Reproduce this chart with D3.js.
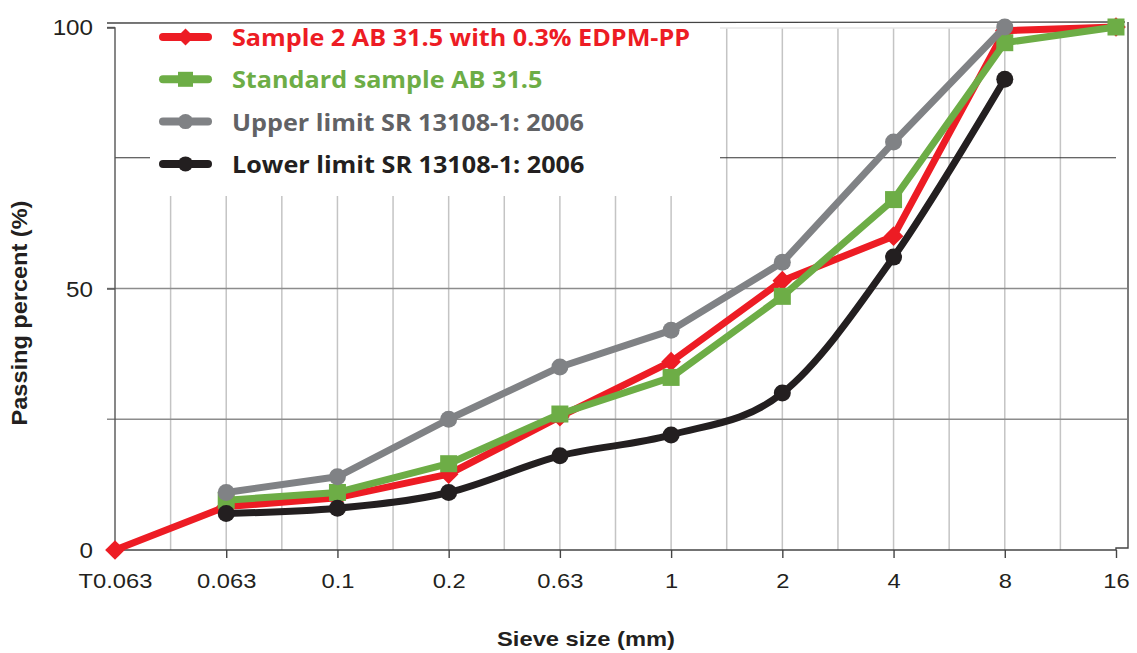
<!DOCTYPE html>
<html><head><meta charset="utf-8">
<script src="https://cdn.jsdelivr.net/npm/d3@7"></script>
<style>
html,body{margin:0;padding:0;background:#fff;}
svg{display:block;}
</style></head>
<body>
<svg id="chart" width="1137" height="653"></svg>
<script>
const categories = ["T0.063","0.063","0.1","0.2","0.63","1","2","4","8","16"];
const sample2  = [0, 8.3, 10, 14.5, 25.5, 36, 51.5, 60, 99.3, 100];
const standard = [null, 9.5, 11, 16.5, 26, 33, 48.5, 67, 97, 100];
const upper    = [null, 11, 14, 25, 35, 42, 55, 78, 100, null];
const lower    = [null, 7, 8, 11, 18, 22, 30, 56, 90, null];
const yTicks = [0, 50, 100];
const yGrid = [25, 50, 75];
const seriesNames = ["Sample 2 AB 31.5 with 0.3% EDPM-PP","Standard sample AB 31.5","Upper limit SR 13108-1: 2006","Lower limit SR 13108-1: 2006"];

const series = [
  {name: seriesNames[0], values: sample2, color: "#ED1C24", text: "#ED1C24", marker: "diamond", smooth: false},
  {name: seriesNames[1], values: standard, color: "#6DAD46", text: "#6DAD46", marker: "square", smooth: false},
  {name: seriesNames[2], values: upper, color: "#808285", text: "#616265", marker: "circle", smooth: false},
  {name: seriesNames[3], values: lower, color: "#231F20", text: "#231F20", marker: "circle", smooth: true}
];

const svg = d3.select("#chart");
const L = 115, R = 1116, T = 27, B = 550;
const x = d3.scalePoint().domain(categories).range([L, R]);
const y = d3.scaleLinear().domain([0, 100]).range([B, T]);
const step = x.step();
const sx = 1.13;

// vertical gridlines at half steps
const halfPos = d3.range(1, (categories.length - 1) * 2).map(i => L + i * step / 2);
const legBox = {x0: 150, x1: 720, y0: 24, y1: 196};
svg.append("g").selectAll("line").data(halfPos).join("line")
  .attr("x1", d => d).attr("x2", d => d)
  .attr("y1", d => (d > legBox.x0 && d < legBox.x1) ? legBox.y1 : T + 1)
  .attr("y2", B)
  .attr("stroke", "#c4c4c4").attr("stroke-width", 1.5);

// top light line (100)
svg.append("line").attr("x1", legBox.x1).attr("x2", R + 6).attr("y1", y(100)+1).attr("y2", y(100)+1)
  .attr("stroke", "#e6e6e6").attr("stroke-width", 1.5);

// horizontal gridlines
yGrid.forEach(v => {
  const g = svg.append("g");
  if (v === 75) {
    g.append("line").attr("x1", L).attr("x2", legBox.x0).attr("y1", y(v)).attr("y2", y(v)).attr("stroke", "#333").attr("stroke-width", 1.2);
    g.append("line").attr("x1", legBox.x1).attr("x2", R).attr("y1", y(v)).attr("y2", y(v)).attr("stroke", "#333").attr("stroke-width", 1.2);
  } else {
    g.append("line").attr("x1", L - 8).attr("x2", R + 11).attr("y1", y(v)).attr("y2", y(v)).attr("stroke", "#8c8c8c").attr("stroke-width", 1.6);
  }
});

// frame: top border, right border
svg.append("line").attr("x1", L - 8).attr("x2", R + 9).attr("y1", 23).attr("y2", 22).attr("stroke", "#444").attr("stroke-width", 1.4);
svg.append("path").attr("d", `M${R},${B} V${B-2} H${R+12} V22`).attr("fill", "none").attr("stroke", "#444").attr("stroke-width", 1.4);

// y axis
const yAxis = d3.axisLeft(y).tickValues(yTicks).tickSize(8).tickPadding(14).tickFormat(d3.format("d"));
const yg = svg.append("g").attr("transform", `translate(${L},0)`).call(yAxis);
yg.select(".domain").attr("stroke", "#555").attr("stroke-width", 1.4).attr("d", `M-8,${T+1}H0V${B}`);
yg.selectAll(".tick line").attr("stroke", "#555").attr("stroke-width", 1.4);
yg.selectAll(".tick text").attr("font-family", "Liberation Sans, Arial, sans-serif").attr("font-size", 22).attr("fill", "#231F20")
  .attr("x", 0).attr("dy", "0.36em").attr("text-anchor", "end").attr("transform", "translate(-22,0) scale(1.1,1)");

// x axis
const xAxis = d3.axisBottom(x).tickSize(8).tickPadding(14);
const xg = svg.append("g").attr("transform", `translate(0,${B})`).call(xAxis);
xg.select(".domain").attr("stroke", "#444").attr("stroke-width", 1.4).attr("d", `M${L},0H${R}`);
xg.selectAll(".tick line").attr("stroke", "#444").attr("stroke-width", 1.4);
xg.selectAll(".tick text").attr("font-family", "Liberation Sans, Arial, sans-serif").attr("font-size", 21).attr("fill", "#231F20")
  .attr("y", 0).attr("dy", 0).attr("transform", `translate(0,38) scale(${sx},1)`);
xg.selectAll(".tick").filter(d => d === "T0.063").select("line").remove();

// axis titles
svg.append("text").attr("transform", `translate(586,646) scale(${sx},1)`).attr("text-anchor", "middle")
  .attr("font-family", "Liberation Sans, Arial, sans-serif").attr("font-weight", "bold").attr("font-size", 21)
  .attr("fill", "#231F20").text("Sieve size (mm)");
svg.append("text").attr("transform", `translate(27,313) rotate(-90) scale(1.07,1)`).attr("text-anchor", "middle")
  .attr("font-family", "Liberation Sans, Arial, sans-serif").attr("font-weight", "bold").attr("font-size", 22)
  .attr("fill", "#231F20").text("Passing percent (%)");

// markers
function drawMarker(g, type, cx, cy, color, s) {
  if (type === "diamond") {
    g.append("path").attr("d", d3.symbol(d3.symbolDiamond2 || d3.symbolDiamond, s*s*1.1)()).attr("transform", `translate(${cx},${cy})`).attr("fill", color);
  } else if (type === "square") {
    g.append("rect").attr("x", cx - s/2).attr("y", cy - s/2).attr("width", s).attr("height", s).attr("fill", color);
  } else {
    g.append("circle").attr("cx", cx).attr("cy", cy).attr("r", s/2).attr("fill", color);
  }
}
const mSize = {diamond: 15, square: 17, circle: 17};

// lines
series.forEach(s => {
  const pts = categories.map((c, i) => ({c, v: s.values[i]})).filter(p => p.v !== null);
  const line = d3.line().x(p => x(p.c)).y(p => y(p.v)).curve(s.smooth ? d3.curveCardinal : d3.curveLinear);
  const g = svg.append("g");
  g.append("path").datum(pts).attr("d", line).attr("fill", "none").attr("stroke", s.color)
    .attr("stroke-width", 7).attr("stroke-linejoin", "round").attr("stroke-linecap", "butt");
  pts.forEach(p => drawMarker(g, s.marker, x(p.c), y(p.v), s.color, mSize[s.marker]));
});

// legend
const lg = svg.append("g");
series.forEach((s, i) => {
  const cy = 37 + i * 42.3;
  lg.append("line").attr("x1", 163).attr("x2", 208).attr("y1", cy).attr("y2", cy)
    .attr("stroke", s.color).attr("stroke-width", 8).attr("stroke-linecap", "round");
  drawMarker(lg, s.marker, 185.5, cy, s.color, s.marker === "diamond" ? 13 : 15);
  lg.append("text").attr("transform", `translate(232,${cy + 9}) scale(1.05,1)`)
    .attr("font-family", "Open Sans, sans-serif").attr("font-weight", "bold").attr("font-size", 24)
    .attr("fill", s.text).text(s.name);
});
</script>
</body></html>
